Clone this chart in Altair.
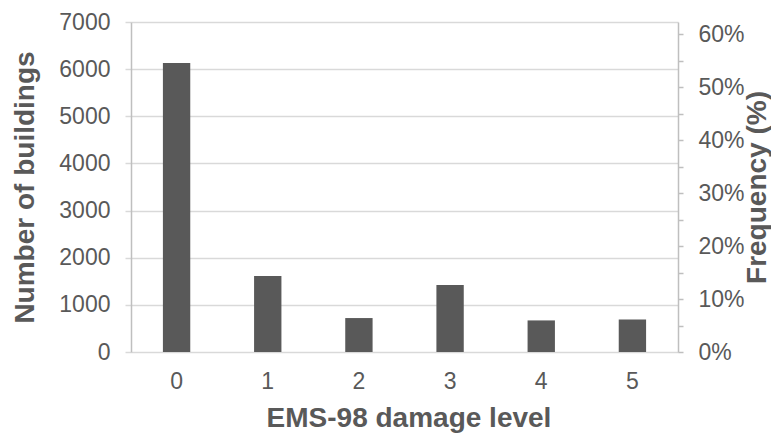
import altair as alt
import pandas as pd

# EMS-98 damage levels and building counts per level
levels = ["0", "1", "2", "3", "4", "5"]
buildings = [6130, 1610, 720, 1420, 670, 690]

total = sum(buildings)
frequency = [b / total for b in buildings]

count_ticks = [0, 1000, 2000, 3000, 4000, 5000, 6000, 7000]
freq_ticks = [i * 0.05 for i in range(13)]  # 0% .. 60%, every 5%

COUNT_MAX = 7000
FREQ_MAX = COUNT_MAX / total  # right axis aligned with the left one

df = pd.DataFrame({"level": levels, "buildings": buildings, "frequency": frequency})

TEXT = "#595959"
FONT = "Liberation Sans"
W, H = 547, 330
LABEL_SIZE = 23
TITLE_SIZE = 28

x_enc = alt.X(
    "level:N",
    sort=levels,
    scale=alt.Scale(paddingInner=0.7, paddingOuter=0.35),
    axis=alt.Axis(
        title="EMS-98 damage level",
        labelAngle=0,
        ticks=False,
        domain=False,
        labelFontSize=LABEL_SIZE,
        labelColor=TEXT,
        labelFont=FONT,
        labelPadding=18,
        titleFontSize=TITLE_SIZE,
        titleFont=FONT,
        titleFontWeight="bold",
        titleColor=TEXT,
        titleX=W / 2 + 4,
        titleY=66,
        titleBaseline="middle",
    ),
)

bars = alt.Chart(df).mark_bar(color="#595959").encode(
    x=x_enc,
    y=alt.Y(
        "buildings:Q",
        scale=alt.Scale(domain=[0, COUNT_MAX], nice=False),
        axis=alt.Axis(
            title="Number of buildings",
            values=count_ticks,
            format="d",
            grid=True,
            gridColor="#d9d9d9",
            gridWidth=1.5,
            domainColor="#bfbfbf",
            domainWidth=1.5,
            tickColor="#d9d9d9",
            tickWidth=1.5,
            tickSize=6,
            labelFontSize=LABEL_SIZE,
            labelFont=FONT,
            labelColor=TEXT,
            labelPadding=15,
            titleFontSize=TITLE_SIZE,
            titleFont=FONT,
            titleFontWeight="bold",
            titleColor=TEXT,
            titleAngle=270,
            titleAlign="center",
            titleBaseline="middle",
            titleX=-106,
            titleY=H / 2,
        ),
    ),
)

freq_layer = alt.Chart(df).mark_bar(opacity=0).encode(
    x=alt.X("level:N", sort=levels),
    y=alt.Y(
        "frequency:Q",
        scale=alt.Scale(domain=[0, FREQ_MAX], nice=False),
        axis=alt.Axis(
            orient="right",
            title="Frequency (%)",
            values=freq_ticks,
            labelExpr="round(datum.value * 20) % 2 == 0 ? format(datum.value, '.0%') : ''",
            grid=False,
            domainColor="#bfbfbf",
            domainWidth=1.5,
            tickColor="#bfbfbf",
            tickWidth=1.5,
            tickSize=5,
            labelFontSize=LABEL_SIZE,
            labelFont=FONT,
            labelColor=TEXT,
            labelPadding=15,
            titleFontSize=TITLE_SIZE,
            titleFont=FONT,
            titleFontWeight="bold",
            titleColor=TEXT,
            titleAngle=270,
            titleAlign="center",
            titleBaseline="middle",
            titleX=79,
            titleY=H / 2,
        ),
    ),
)

chart = (
    alt.layer(bars, freq_layer)
    .resolve_scale(y="independent")
    .properties(
        width=W,
        height=H,
        autosize=alt.AutoSizeParams(type="none"),
        padding={"left": 131, "top": 22, "right": 93, "bottom": 82},
        background="white",
    )
    .configure_view(strokeWidth=0)
)

chart.save("out.html", embed_options={"renderer": "svg", "actions": False})
